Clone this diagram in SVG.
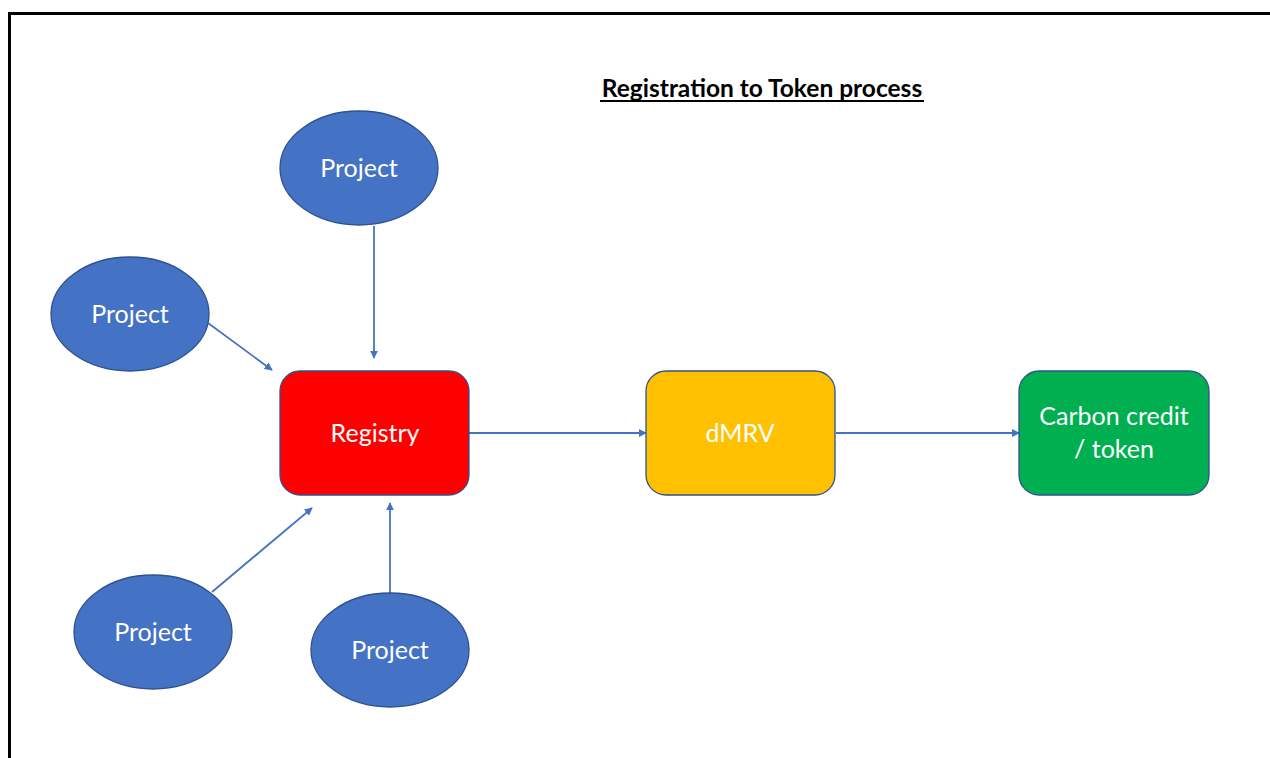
<svg xmlns="http://www.w3.org/2000/svg" width="1270" height="758" viewBox="0 0 1270 758">
  <style>
    .proj { fill: #4472C4; stroke: #2F528F; stroke-width: 1.3; }
    .box { stroke: #2F528F; stroke-width: 1.3; }
    .lbl { font-family: Lato, "Open Sans", "Liberation Sans", sans-serif; font-size: 25px; fill: #FFFFFF; text-anchor: middle; }
    .title { font-family: Lato, "Liberation Sans", sans-serif; font-size: 24.5px; font-weight: bold; fill: #000000; }
    .conn { stroke: #4472C4; stroke-width: 1.8; fill: none; marker-end: url(#arrow); }
  </style>
  <defs>
    <marker id="arrow" viewBox="0 0 10 10" refX="9" refY="5" markerWidth="4.5" markerHeight="4.5" orient="auto" markerUnits="strokeWidth">
      <path d="M0,0 L10,5 L0,10 z" fill="#4472C4"/>
    </marker>
  </defs>
  <rect x="0" y="0" width="1270" height="758" fill="#FFFFFF"/>
  <!-- frame -->
  <rect x="9.5" y="13.5" width="1280" height="780" fill="none" stroke="#000000" stroke-width="3"/>

  <!-- heading -->
  <g id="title">
    <text class="title" x="762" y="97" text-anchor="middle">Registration to Token process</text>
    <line x1="600" y1="101" x2="924" y2="101" stroke="#000000" stroke-width="1.8"/>
  </g>

  <!-- connectors -->
  <g id="connectors">
    <line class="conn" x1="374" y1="226" x2="374" y2="358"/>
    <line class="conn" x1="208" y1="323" x2="272" y2="370"/>
    <line class="conn" x1="212" y1="592" x2="312" y2="508"/>
    <line class="conn" x1="390" y1="593" x2="390" y2="503"/>
    <line class="conn" x1="469" y1="433" x2="646" y2="433"/>
    <line class="conn" x1="836" y1="433" x2="1019" y2="433"/>
  </g>

  <g id="project-top">
    <ellipse class="proj" cx="359" cy="168" rx="79" ry="57"/>
    <text class="lbl" x="359" y="177">Project</text>
  </g>
  <g id="project-left">
    <ellipse class="proj" cx="130" cy="314" rx="79" ry="57"/>
    <text class="lbl" x="130" y="323">Project</text>
  </g>
  <g id="project-bottom-left">
    <ellipse class="proj" cx="153" cy="632" rx="79" ry="57"/>
    <text class="lbl" x="153" y="641">Project</text>
  </g>
  <g id="project-bottom-right">
    <ellipse class="proj" cx="390" cy="650" rx="79" ry="57"/>
    <text class="lbl" x="390" y="659">Project</text>
  </g>

  <g id="registry">
    <rect class="box" x="280" y="371" width="189" height="124" rx="20" fill="#FF0000"/>
    <text class="lbl" x="375" y="442">Registry</text>
  </g>
  <g id="dmrv">
    <rect class="box" x="646" y="371" width="189" height="124" rx="20" fill="#FFC000"/>
    <text class="lbl" x="740" y="442">dMRV</text>
  </g>
  <g id="carbon-credit">
    <rect class="box" x="1019" y="371" width="190" height="124" rx="20" fill="#00B050"/>
    <text class="lbl" x="1114" y="425">Carbon credit</text>
    <text class="lbl" x="1114" y="458">/ token</text>
  </g>
</svg>
